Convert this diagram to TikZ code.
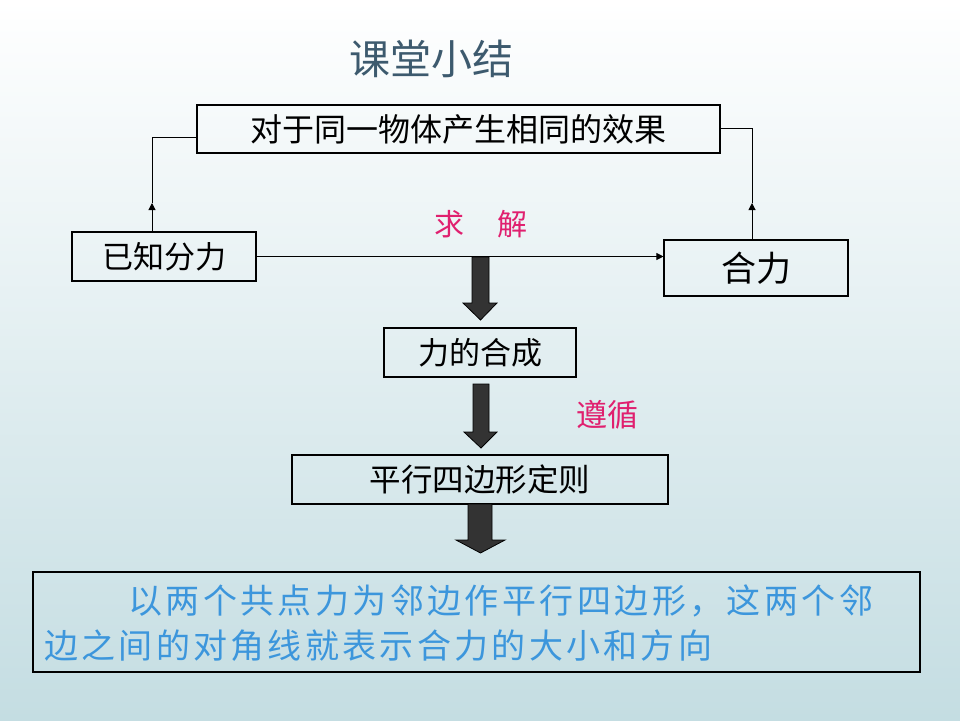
\documentclass[tikz,border=0pt]{standalone}
\usepackage{fontspec}
\newfontfamily\cjk{Noto Sans CJK SC}
\usetikzlibrary{arrows.meta}
\definecolor{bgbot}{HTML}{C4DDE2}
\definecolor{titlec}{HTML}{3D5A6E}
\definecolor{mag}{HTML}{E0206F}
\definecolor{bluet}{HTML}{3C96DC}
\definecolor{arrowfill}{HTML}{333333}
\ExplSyntaxOn
\NewDocumentCommand\spreadline{mm}{\hbox~to~#1{\tl_map_inline:nn{#2}{##1\hfill}\unskip}}
\ExplSyntaxOff
\tikzset{
  box/.style={draw=black, line width=1.1pt, inner sep=0pt},
  txt/.style={inner sep=0pt, font=\fontsize{31}{34}\selectfont\cjk},
  conn/.style={draw=black, line width=1pt},
  tipconn/.style={conn, -{Triangle[length=7pt,width=7pt]}},
  bigarrow/.style={fill=arrowfill, draw=black, line width=0.8pt},
}
\begin{document}
\begin{tikzpicture}[x=1pt,y=-1pt]
\useasboundingbox (0,0) rectangle (960,720);
\shade[top color=white, bottom color=bgbot] (0,0) rectangle (960,720);
% title
\node[txt, font=\fontsize{41}{44}\selectfont\cjk, text=titlec] (title) at (431,59) {课堂小结};
% boxes
\node[box, minimum width=523pt, minimum height=48pt] (top) at (458.5,129) {};
\node[txt, font=\fontsize{32}{34}\selectfont\cjk] (toptxt) at (top.center) {对于同一物体产生相同的效果};
\node[box, minimum width=184pt, minimum height=49pt] (kn) at (164,256.5) {};
\node[txt] (kntxt) at (kn.center) {已知分力};
\node[box, minimum width=184pt, minimum height=56pt] (he) at (756,268) {};
\node[txt, font=\fontsize{35}{38}\selectfont\cjk] (hetxt) at (he.center) {合力};
\node[box, minimum width=192pt, minimum height=49pt] (hc) at (480,352.5) {};
\node[txt] (hctxt) at (hc.center) {力的合成};
\node[box, minimum width=376pt, minimum height=49pt] (px) at (480,479.5) {};
\node[txt, font=\fontsize{31.5}{34}\selectfont\cjk] (pxtxt) at (px.center) {平行四边形定则};
\node[box, minimum width=887pt, minimum height=100pt] (bot) at (476.5,622) {};
% labels
\node[txt, font=\fontsize{30}{32}\selectfont\cjk, text=mag] (qiu) at (449,224) {求};
\node[txt, font=\fontsize{30}{32}\selectfont\cjk, text=mag] (jie) at (512,224) {解};
\node[txt, text=mag] (zx) at (607,415) {遵循};
% bottom text
\node[txt, font=\fontsize{34}{38}\selectfont\cjk, text=bluet, anchor=west] (l1) at (128,601) {\spreadline{745pt}{以两个共点力为邻边作平行四边形，这两个邻}};
\node[txt, font=\fontsize{34}{38}\selectfont\cjk, text=bluet, anchor=west] (l2) at (44,646) {\spreadline{668pt}{边之间的对角线就表示合力的大小和方向}};
% connectors
\draw[tipconn] (kn.east) -- (he.west |- kn.east);
\coordinate (lb) at (152,232);
\coordinate (lm) at (152,203);
\coordinate (lc) at (152,137);
\coordinate (rb) at (752,240);
\coordinate (rm) at (752,203);
\coordinate (rc) at (752,128);
\draw[tipconn] (lb) -- (lm);
\draw[conn] (lm) -- (lc) -- (top.west |- lc);
\draw[tipconn] (rb) -- (rm);
\draw[conn] (rm) -- (rc) -- (top.east |- rc);
% big arrows
\draw[bigarrow] (472,257) -- (489,257) -- (489,303) -- (497,303) -- (480.5,320) -- (463,303) -- (472,303) -- cycle;
\draw[bigarrow] (473,384) -- (489,384) -- (489,432) -- (497,432) -- (481,448) -- (464,432) -- (473,432) -- cycle;
\draw[bigarrow] (468,504) -- (492,504) -- (492,540) -- (505,540) -- (480.5,553) -- (456,540) -- (468,540) -- cycle;
\end{tikzpicture}
\end{document}
